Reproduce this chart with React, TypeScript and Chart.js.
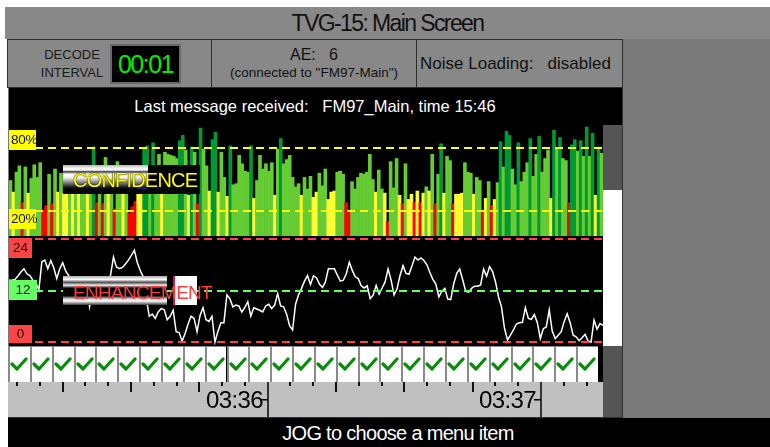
import React, { useEffect, useRef } from "react";
import { Chart, registerables } from "chart.js";

Chart.register(...registerables);

const FONT = '"Liberation Sans", Arial, Helvetica, sans-serif';

// ---------------- data ----------------
// decoder confidence per sample (%)
const confidence: number[] = [
  49, 38, 57, 63, 28, 62, 37, 51, 64, 52,
  66, 21, 25, 55, 27, 60, 38, 56, 37, 38,
  50, 37, 48, 39, 55, 45, 36, 52, 81, 28,
  50, 27, 71, 37, 48, 22, 67, 45, 36, 50,
  18, 24, 29, 38, 37, 80, 82, 60, 85, 62,
  74, 37, 76, 74, 73, 72, 70, 87, 92, 78,
  35, 81, 76, 27, 99, 79, 63, 39, 88, 95,
  38, 76, 52, 34, 82, 45, 46, 73, 65, 58,
  57, 82, 32, 49, 73, 60, 65, 58, 66, 35,
  79, 89, 65, 69, 73, 52, 43, 46, 35, 52,
  41, 53, 33, 38, 56, 44, 60, 31, 38, 39,
  57, 58, 55, 28, 21, 48, 41, 52, 56, 55,
  57, 74, 50, 38, 59, 41, 37, 10, 67, 42,
  70, 35, 27, 65, 31, 36, 28, 39, 28, 37,
  43, 39, 74, 27, 55, 84, 37, 72, 68, 27,
  36, 36, 37, 66, 57, 56, 36, 52, 49, 19,
  32, 48, 25, 31, 47, 86, 62, 96, 92, 60,
  45, 85, 48, 57, 66, 89, 53, 74, 91, 57,
  70, 78, 32, 97, 79, 90, 70, 68, 28, 83,
  88, 77, 87, 72, 100, 72, 94, 35, 81, 75,
];

// enhancement level per sample (0..24)
const enhancement: number[] = [
  14.4, 14.4, 14.6, 15.4, 16.3, 17.1, 15.9, 15.5, 14.4, 13.8,
  12.1, 18.7, 19.1, 17.1, 19.0, 17.3, 14.8, 17.1, 18.5, 16.5,
  15.5, 13, 11, 14, 12, 10, 13, 8.2, 12, 14,
  11, 13, 12, 14, 15.5, 19.8, 17.5, 17.1, 17.4, 18.2,
  19.1, 20.2, 21.4, 18.5, 16.6, 15.2, 10, 6, 6.5, 5.5,
  7, 7.8, 7.5, 5.2, 6, 7.4, 2.4, 2.2, 0.2, 2,
  4.2, 6, 5.5, 2.4, 6.2, 8, 5.2, 4.8, 6, 0,
  2.5, 4.5, 4.5, 11, 10.1, 8.2, 8.6, 8.4, 7, 8,
  9.4, 6, 8, 7.7, 7.4, 7, 8.4, 8.8, 7.8, 8.6,
  11.3, 8.4, 8.2, 6.5, 3.8, 2.8, 8.8, 11, 12.5, 14.2,
  15.5, 13.4, 15.4, 15, 13.5, 12.7, 14, 17.1, 17.1, 17.1,
  15.6, 14.2, 14.4, 15.9, 18.6, 16.7, 15.2, 14.8, 13.1, 12.6,
  13.1, 10.1, 10.9, 13.2, 11.2, 12.6, 14, 17, 14.5, 11,
  12.4, 15.5, 17.8, 16, 15.8, 17.7, 19.8, 19.1, 19.6, 19,
  18, 16.2, 14.6, 13.5, 10.5, 11.8, 12.5, 10, 9.9, 13.6,
  16, 17, 14.5, 11.8, 11.6, 12.5, 13, 13, 13.3, 17,
  15.3, 17.6, 16.4, 14, 10.5, 8.2, 3.2, 0.5, 1.6, 2.8,
  4.2, 4.5, 4.6, 8, 5.5, 5.3, 6.4, 4.5, 0.8, 3.1,
  3.5, 7.5, 2.5, 0.8, 1.6, 2.4, 4.8, 6.6, 4.5, 1.6,
  1.2, 0.3, 1, 1.8, 0.2, 0, 5.1, 3, 4.3, 3.9,
];

const confidenceRefLines = [80, 20];
const confidenceRefLabels = ["80%", "20%"];
const enhancementRefLines = [24, 12, 0];
const enhancementRefLabels = ["24", "12", "0"];

// decode status per interval cell (true = decoded OK)
const decodeChecks: boolean[] = [
  true, true, true, true, true, true, true, true, true,
  true, true, true, true, true, true, true, true, true,
  true, true, true, true, true, true, true, true, true,
];

// time strip (seconds since midnight)
const timeLabels = ["03:36", "03:37"];
const timeLabelSeconds = [12960, 13020];
const timeWindow = [12903, 13033.6];

// ---------------- helpers ----------------
function barColor(v: number) {
  if (v < 30) return "#ff0000";
  if (v < 40) return "#ffff33";
  if (v < 80) return "#66cc33";
  return "#009933";
}

function refLinePlugin(lines: { value: number; color: string }[]) {
  return {
    id: "refLines",
    afterDatasetsDraw(chart: any) {
      const { ctx, chartArea, scales } = chart;
      ctx.save();
      ctx.lineWidth = 2;
      ctx.setLineDash([8, 5]);
      for (const l of lines) {
        const y = Math.round(scales.y.getPixelForValue(l.value));
        ctx.strokeStyle = l.color;
        ctx.beginPath();
        ctx.moveTo(chartArea.left, y);
        ctx.lineTo(chartArea.right, y);
        ctx.stroke();
      }
      ctx.restore();
    },
  };
}

const timeAxisPlugin = {
  id: "timeAxis",
  afterDraw(chart: any) {
    const { ctx, chartArea: a, scales } = chart;
    const x = scales.x;
    ctx.save();
    const first = Math.ceil(x.min / 5) * 5;
    for (let t = first; t <= x.max; t += 5) {
      const px = Math.round(x.getPixelForValue(t));
      if (t % 60 === 0) {
        ctx.fillStyle = "#333";
        ctx.fillRect(px - 1, a.top, 2, a.bottom - a.top);
      } else {
        ctx.fillStyle = "#111";
        const len = t % 15 === 0 ? 10 : 4;
        ctx.fillRect(px - 1, a.top, 2, len);
      }
    }
    ctx.fillStyle = "#000";
    ctx.font = `24px ${FONT}`;
    ctx.textAlign = "right";
    ctx.textBaseline = "alphabetic";
    try {
      (ctx as any).letterSpacing = "-0.6px";
    } catch (e) {}
    timeLabels.forEach((label, i) => {
      const px = Math.round(x.getPixelForValue(timeLabelSeconds[i]));
      ctx.fillText(label, px - 5, a.top + 26);
      ctx.fillRect(px - 7, a.top + 17, 7, 1.5);
    });
    ctx.restore();
  },
};

const abs = (l: number, t: number, w: number, h: number, s: any = {}) => ({
  position: "absolute" as const,
  left: l,
  top: t,
  width: w,
  height: h,
  boxSizing: "border-box" as const,
  ...s,
});

const CELL_W = 21.85;

export default function App() {
  const confRef = useRef<HTMLCanvasElement>(null);
  const enhRef = useRef<HTMLCanvasElement>(null);
  const timeRef = useRef<HTMLCanvasElement>(null);

  useEffect(() => {
    const common = {
      animation: false,
      responsive: false,
      devicePixelRatio: 1,
      events: [],
      layout: { padding: 0 },
    };
    const charts: Chart[] = [];

    charts.push(
      new Chart(confRef.current as HTMLCanvasElement, {
        type: "bar",
        data: {
          labels: confidence.map((_, i) => i),
          datasets: [
            {
              data: confidence,
              backgroundColor: confidence.map(barColor),
              borderWidth: 0,
              barPercentage: 1,
              categoryPercentage: 1,
              base: -3.8,
            } as any,
          ],
        },
        options: {
          ...common,
          plugins: { legend: { display: false }, tooltip: { enabled: false } },
          scales: {
            x: { display: false },
            y: { display: false, min: -3.8, max: 101.9 },
          },
        } as any,
        plugins: [
          refLinePlugin(confidenceRefLines.map((v) => ({ value: v, color: "#ffff00" }))),
        ],
      })
    );

    charts.push(
      new Chart(enhRef.current as HTMLCanvasElement, {
        type: "line",
        data: {
          labels: enhancement.map((_, i) => i),
          datasets: [
            {
              data: enhancement,
              borderColor: "#ffffff",
              borderWidth: 1.5,
              pointRadius: 0,
              tension: 0,
              fill: false,
            },
          ],
        },
        options: {
          ...common,
          plugins: { legend: { display: false }, tooltip: { enabled: false } },
          scales: {
            x: { display: false, offset: false },
            y: { display: false, min: -0.7, max: 24.25 },
          },
        } as any,
        plugins: [
          refLinePlugin(
            enhancementRefLines.map((v) => ({
              value: v,
              color: v === 12 ? "#66ff66" : "#ff4444",
            }))
          ),
        ],
      })
    );

    charts.push(
      new Chart(timeRef.current as HTMLCanvasElement, {
        type: "scatter",
        data: { datasets: [{ data: [] }] },
        options: {
          ...common,
          plugins: { legend: { display: false }, tooltip: { enabled: false } },
          scales: {
            x: { type: "linear", display: false, min: timeWindow[0], max: timeWindow[1] },
            y: { display: false, min: 0, max: 1 },
          },
        } as any,
        plugins: [timeAxisPlugin],
      })
    );

    return () => charts.forEach((c) => c.destroy());
  }, []);

  const panel = { background: "#888888", border: "1px solid #2e2e2e" };

  return (
    <div
      style={{
        position: "fixed",
        left: 0,
        top: 0,
        width: 770,
        height: 447,
        background: "#ffffff",
        overflow: "hidden",
        fontFamily: FONT,
      }}
    >
      {/* title */}
      <div
        style={abs(5, 7, 765, 32, {
          background: "#888888",
          color: "#111",
          fontSize: 23,
          letterSpacing: -1.6,
          lineHeight: "32px",
          textAlign: "center",
        })}
      >
        TVG-15: Main Screen
      </div>

      {/* right area */}
      <div style={abs(622, 39, 148, 379, { background: "#7a7a7a" })} />

      {/* header panels */}
      <div style={abs(7, 39, 205, 49, panel)} />
      <div
        style={abs(30, 47, 84, 15, {
          fontSize: 13,
          lineHeight: "15px",
          textAlign: "center",
          color: "#1a1a1a",
        })}
      >
        DECODE
      </div>
      <div
        style={abs(30, 65, 84, 15, {
          fontSize: 13,
          lineHeight: "15px",
          textAlign: "center",
          color: "#1a1a1a",
        })}
      >
        INTERVAL
      </div>
      <div
        style={abs(110, 44, 71, 40, {
          background: "#000",
          border: "2px solid #6a6a6a",
          color: "#00ee00",
          fontSize: 25,
          letterSpacing: -1.5,
          lineHeight: "36px",
          textAlign: "center",
        })}
      >
        00:01
      </div>

      <div style={abs(211, 39, 206, 49, panel)} />
      <div
        style={abs(211, 45, 206, 19, {
          fontSize: 16,
          lineHeight: "19px",
          textAlign: "center",
          color: "#111",
          whiteSpace: "pre",
        })}
      >
        {"AE:   6"}
      </div>
      <div
        style={abs(211, 65, 206, 16, {
          fontSize: 13.5,
          lineHeight: "16px",
          textAlign: "center",
          color: "#111",
          whiteSpace: "pre",
        })}
      >
        (connected to "FM97-Main")
      </div>

      <div style={abs(416, 39, 207, 49, panel)} />
      <div
        style={abs(412, 53, 207, 22, {
          fontSize: 17,
          lineHeight: "22px",
          textAlign: "center",
          color: "#111",
          whiteSpace: "pre",
        })}
      >
        {"Noise Loading:   disabled"}
      </div>

      {/* black main panel */}
      <div style={abs(8, 88, 615, 330, { background: "#000", borderLeft: "1px solid #777" })} />
      <div
        style={abs(8, 96, 614, 20, {
          color: "#fff",
          fontSize: 16.5,
          lineHeight: "20px",
          textAlign: "center",
          whiteSpace: "pre",
        })}
      >
        {"Last message received:   FM97_Main, time 15:46"}
      </div>

      {/* charts */}
      <canvas ref={confRef} width={594} height={111} style={abs(9, 125, 594, 111)} />
      <canvas ref={enhRef} width={594} height={107} style={abs(9, 238, 594, 107)} />

      {/* scroll bar */}
      <div style={abs(603, 125, 19, 65, { background: "#555" })} />
      <div style={abs(603, 190, 19, 156, { background: "#fff" })} />
      <div style={abs(603, 346, 19, 72, { background: "#555" })} />
      <div style={abs(622, 88, 1, 330, { background: "#333" })} />

      {/* reference labels */}
      {confidenceRefLabels.map((t, i) => (
        <div
          key={t}
          style={abs(9, i === 0 ? 130 : 209, 27, 20, {
            background: "#ffff00",
            color: "#111",
            fontSize: 13.5,
            lineHeight: "20px",
            paddingLeft: 2,
            letterSpacing: -0.3,
          })}
        >
          {t}
        </div>
      ))}
      {enhancementRefLabels.map((t, i) => {
        const tops = [238, 280, 325];
        const hs = [20, 20, 18];
        const ws = [23, 28, 23];
        return (
          <div
            key={t}
            style={abs(9, tops[i], ws[i], hs[i], {
              background: t === "12" ? "#66ff66" : "#ff4444",
              color: "#111",
              fontSize: 13.5,
              lineHeight: hs[i] + "px",
              textAlign: "center",
            })}
          >
            {t}
          </div>
        );
      })}

      {/* CONFIDENCE label */}
      <div style={abs(63, 165, 137, 29, { background: "#000" })} />
      <div
        style={abs(63, 165, 85, 24, {
          background:
            "linear-gradient(to bottom, #b5b5b5 0%, #ffffff 16%, #ececec 22%, #3a3a3a 28%, #ffffff 38%, #f2f2f2 52%, #8a8a8a 72%, #1a1a1a 92%, #000 100%)",
        })}
      />
      <div style={abs(137, 187, 10, 2, { background: "#1a1a80" })} />
      <div
        style={abs(73, 166, 140, 29, {
          color: "#ffff00",
          fontSize: 20,
          lineHeight: "29px",
          letterSpacing: -0.8,
          textShadow: "0 0 1px #000, 0 0 1px #000",
          whiteSpace: "pre",
        })}
      >
        CONFIDENCE
      </div>

      {/* ENHANCEMENT label */}
      <div
        style={abs(63, 276, 104, 29, {
          background:
            "linear-gradient(to bottom, #a8a8a8 0%, #ffffff 12%, #505050 22%, #efefef 32%, #000 42%, #000 68%, #c8c8c8 78%, #ffffff 86%, #3a3a3a 100%)",
        })}
      />
      <div
        style={abs(173, 276, 24, 29, {
          background: "#fff",
          borderLeft: "2px solid #d0105a",
        })}
      />
      <div
        style={abs(73, 278, 150, 29, {
          color: "#ff3c3c",
          fontSize: 19,
          lineHeight: "29px",
          letterSpacing: -0.7,
          whiteSpace: "pre",
        })}
      >
        ENHANCEMENT
      </div>

      {/* decode check cells */}
      <div style={abs(8, 346, 595, 36, { background: "#000" })} />
      {decodeChecks.map((ok, i) => (
        <div
          key={i}
          style={abs(8 + i * CELL_W, 346, CELL_W, 36, {
            background: "#fff",
            borderLeft: "2px solid #8a8a8a",
            borderTop: "1px solid #8a8a8a",
          })}
        >
          {ok && (
            <svg
              width={20}
              height={34}
              style={{ position: "absolute", left: 0, top: 0 }}
            >
              <path
                d="M2 17 L7 22 L16 12"
                stroke="#0b8a0b"
                strokeWidth={3.2}
                fill="none"
                strokeLinecap="round"
                strokeLinejoin="round"
              />
            </svg>
          )}
        </div>
      ))}

      {/* time strip */}
      <canvas
        ref={timeRef}
        width={595}
        height={35}
        style={abs(8, 382, 595, 35, { background: "#c0c0c0" })}
      />
      <div style={abs(8, 417, 615, 1, { background: "#333" })} />

      {/* bottom bar */}
      <div style={abs(8, 418, 762, 29, { background: "#000" })} />
      <div
        style={abs(8, 420, 762, 27, {
          color: "#fff",
          fontSize: 20,
          lineHeight: "27px",
          letterSpacing: -0.7,
          textAlign: "center",
          paddingLeft: 18,
          whiteSpace: "pre",
        })}
      >
        JOG to choose a menu item
      </div>
    </div>
  );
}
